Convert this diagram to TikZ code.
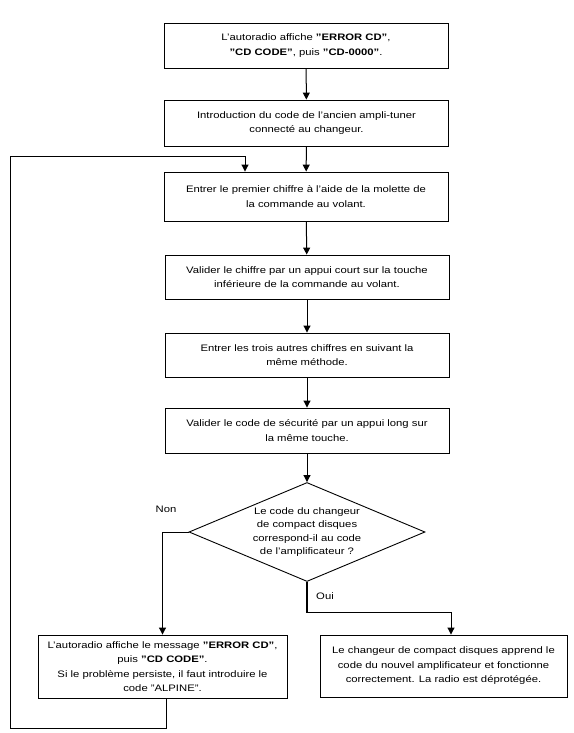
\documentclass[tikz,border=0pt]{standalone}
\usepackage{fontspec}
\setmainfont{Liberation Sans}[FakeStretch=1.2]
\usetikzlibrary{calc, arrows.meta, positioning, shapes.geometric}

\begin{document}
\begin{tikzpicture}[
    x=1pt, y=-1pt,
    font=\fontsize{9.4}{14.5}\selectfont,
    box/.style={rectangle, draw, line width=0.9pt, minimum width=284pt, minimum height=45pt, align=center, inner sep=0pt},
    decision/.style={diamond, draw, line width=0.9pt, minimum width=236pt, minimum height=99pt, shape aspect=2.4, inner sep=0pt, align=center},
    arrow/.style={-{Triangle[width=7pt,length=7pt]}, line width=1pt}
  ]
    \useasboundingbox (0,0) rectangle (573,733);

    \node[box] (show) at (306,45.5) {L'autoradio affiche \textbf{"ERROR CD"},\\ \textbf{"CD CODE"}, puis \textbf{"CD-0000"}.};
    \node[box, minimum height=46pt] (intro) at (306.5,123) {Introduction du code de l'ancien ampli-tuner\\connecté au changeur.};
    \node[box, minimum height=49pt] (first) at (306,196.5) {Entrer le premier chiffre à l'aide de la molette de\\la commande au volant.};
    \node[box, minimum height=44pt] (short) at (307,277) {Valider le chiffre par un appui court sur la touche\\inférieure de la commande au volant.};
    \node[box, minimum height=44pt] (others) at (307,355) {Entrer les trois autres chiffres en suivant la\\même méthode.};
    \node[box] (long) at (307,430.5) {Valider le code de sécurité par un appui long sur\\la même touche.};
    \node[decision] (check) at (307,532) {\raisebox{-4pt}{\shortstack{Le code du changeur\\[1.5pt]de compact disques\\[1.5pt]correspond-il au code\\[1.5pt]de l'amplificateur ?}}};
    \node[box, minimum width=249pt, minimum height=63pt] (fail) at (162.5,666.5) {L'autoradio affiche le message \textbf{"ERROR CD"},\\puis \textbf{"CD CODE"}.\\Si le problème persiste, il faut introduire le\\code "ALPINE".};
    \node[box, minimum width=247pt, minimum height=62pt] (done) at (443.5,666) {Le changeur de compact disques apprend le\\code du nouvel amplificateur et fonctionne\\correctement. La radio est déprotégée.};
    \node (non) at (166,509) {Non};
    \node (oui) at (325,596) {Oui};

    \draw[arrow] (show) -- (intro);
    \draw[arrow] (intro) -- (first);
    \draw[arrow] (first) -- (short);
    \draw[arrow] (short) -- (others);
    \draw[arrow] (others) -- (long);
    \draw[arrow] (long) -- (check);
    \draw[arrow] (check.west) -| (fail.north);
    \draw[line width=2.5pt] (check.south) -- ++(0,31) coordinate (yes);
    \draw[arrow] (yes) -| ([xshift=7.5pt]done.north);
    \draw[arrow] ([xshift=3.5pt]fail.south) -- ++(0,30) -| (10,156) -| ([xshift=-61pt]first.north);
\end{tikzpicture}
\end{document}
